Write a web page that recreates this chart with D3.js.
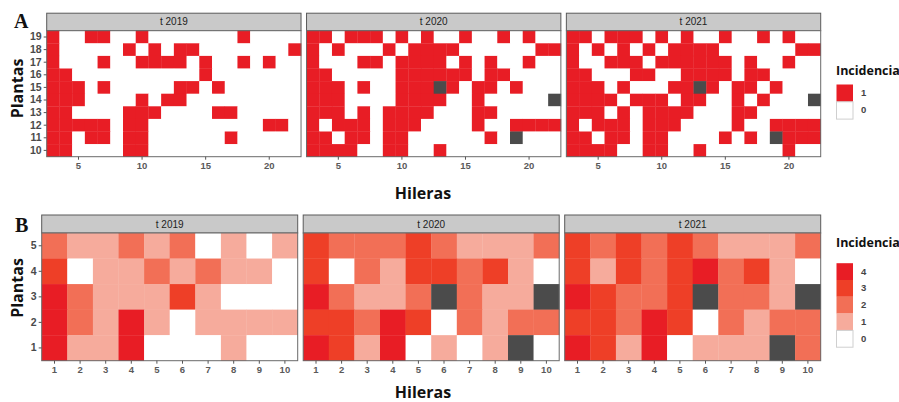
<!DOCTYPE html>
<html>
<head>
<meta charset="utf-8">
<script src="https://cdn.jsdelivr.net/npm/d3@7"></script>
<style>
  html, body { margin: 0; padding: 0; background: #fff; }
  svg { display: block; }
</style>
</head>
<body>
<svg id="chart" width="899" height="402"></svg>
<script>
// ---------- Panel A: presence (1) / absence (0) per plant and row ----------
const facetsA = ["t 2019", "t 2020", "t 2021"];
const hilerasA = [3, 4, 5, 6, 7, 8, 9, 10, 11, 12, 13, 14, 15, 16, 17, 18, 19, 20, 21, 22];
const plantasA = [10, 11, 12, 13, 14, 15, 16, 17, 18, 19];
const ticksAx = [5, 10, 15, 20];

// Each entry: [planta, hileras with incidencia = 1]
const incid2019 = [
  [19, [3, 6, 7, 10, 18]],
  [18, [3, 9, 11, 13, 14, 22]],
  [17, [3, 7, 10, 11, 12, 13, 15, 18, 20]],
  [16, [3, 4, 15]],
  [15, [3, 4, 5, 7, 13, 14, 16]],
  [14, [3, 4, 5, 10, 12, 13]],
  [13, [3, 4, 9, 10, 11, 16, 17]],
  [12, [3, 4, 5, 6, 7, 9, 10, 20, 21]],
  [11, [3, 4, 6, 7, 9, 10, 17]],
  [10, [3, 4, 9, 10]]
];
const incid2020 = [
  [19, [3, 4, 6, 7, 8, 10, 12, 15, 18, 20]],
  [18, [3, 5, 9, 11, 12, 13, 14, 21, 22]],
  [17, [3, 7, 8, 10, 11, 12, 13, 15, 17, 20]],
  [16, [3, 4, 10, 11, 12, 13, 14, 15, 17, 18]],
  [15, [3, 4, 5, 7, 10, 11, 12, 14, 16, 17, 19]],
  [14, [3, 4, 5, 10, 11, 12, 13, 16]],
  [13, [3, 4, 5, 7, 9, 10, 11, 12, 16, 17]],
  [12, [3, 5, 6, 7, 9, 10, 11, 16, 19, 20, 21, 22]],
  [11, [3, 4, 6, 7, 9, 10, 17]],
  [10, [3, 4, 5, 6, 9, 10, 13]]
];
const incid2021 = [
  [19, [3, 4, 6, 7, 8, 10, 12, 15, 18, 20]],
  [18, [3, 5, 7, 9, 11, 12, 13, 14, 21, 22]],
  [17, [3, 6, 7, 8, 10, 11, 12, 13, 14, 15, 17, 20]],
  [16, [3, 4, 8, 9, 12, 13, 14, 15, 17, 18]],
  [15, [3, 4, 5, 7, 11, 12, 14, 16, 17, 19]],
  [14, [3, 4, 5, 6, 8, 9, 10, 12, 13, 16, 18]],
  [13, [3, 4, 5, 7, 9, 10, 11, 12, 16, 17]],
  [12, [3, 5, 6, 7, 9, 10, 11, 16, 19, 20, 21, 22]],
  [11, [3, 4, 6, 7, 9, 10, 15, 17, 20, 21, 22]],
  [10, [3, 4, 5, 6, 9, 10, 13, 20]]
];
// Missing plants: [planta, hilera]
const na2019 = [];
const na2020 = [[15, 13], [14, 22], [11, 19]];
const na2021 = [[15, 13], [14, 22], [11, 19]];

const levelsA = [1, 0];

// ---------- Panel B: severity (0-4) per plant and row ----------
const facetsB = ["t 2019", "t 2020", "t 2021"];
const hilerasB = [1, 2, 3, 4, 5, 6, 7, 8, 9, 10];
const plantasB = [1, 2, 3, 4, 5];
// Rows listed from planta 5 (top) down to planta 1; null = missing
const sev2019 = [
  [2, 1, 1, 2, 1, 2, 0, 1, 0, 1],
  [3, 0, 1, 1, 2, 1, 2, 1, 1, 0],
  [4, 2, 1, 1, 1, 3, 1, 0, 0, 0],
  [4, 2, 1, 4, 1, 0, 1, 1, 1, 1],
  [4, 1, 1, 4, 0, 0, 0, 1, 0, 0]
];
const sev2020 = [
  [3, 2, 2, 2, 3, 2, 1, 1, 1, 2],
  [3, 0, 2, 1, 3, 3, 2, 3, 1, 0],
  [4, 2, 1, 1, 2, null, 2, 1, 1, null],
  [3, 3, 2, 4, 3, 0, 2, 1, 2, 2],
  [4, 3, 1, 4, 0, 1, 0, 1, null, 0]
];
const sev2021 = [
  [3, 2, 3, 2, 3, 2, 1, 1, 1, 2],
  [3, 1, 3, 2, 3, 4, 2, 3, 1, 0],
  [4, 3, 2, 2, 3, null, 2, 2, 1, null],
  [3, 3, 2, 4, 3, 0, 2, 1, 2, 2],
  [4, 3, 1, 4, 0, 1, 1, 1, null, 2]
];
const levelsB = [4, 3, 2, 1, 0];

// ---------- styling ----------
const RED = "#e81d25";
const NA_FILL = "#4b4b4b";
const colorA = d3.scaleOrdinal().domain([0, 1]).range(["#ffffff", RED]);
const colorB = d3.scaleOrdinal().domain([0, 1, 2, 3, 4])
  .range(["#ffffff", "#f6ab9c", "#f26f56", "#ee3f27", RED]);

const svg = d3.select("#chart");
const tickFont = "'Liberation Sans', Arial, sans-serif";
const titleFont = "'Open Sans', 'DejaVu Sans', sans-serif";

// Flatten panel A rows into cell records
function cellsA(rows, naList) {
  const out = [];
  const naKey = new Set(naList.map(d => d[0] + "_" + d[1]));
  rows.forEach(([p, reds]) => {
    hilerasA.forEach(h => {
      const k = p + "_" + h;
      out.push({ p, h, v: naKey.has(k) ? null : (reds.includes(h) ? 1 : 0) });
    });
  });
  return out;
}
function cellsB(rows) {
  const out = [];
  rows.forEach((vals, i) => {
    const p = plantasB[plantasB.length - 1 - i];
    vals.forEach((v, j) => out.push({ p, h: hilerasB[j], v }));
  });
  return out;
}

// Draws one faceted heatmap block
function drawBlock(cfg) {
  const { facets, data, hileras, plantas, left, right, top, height, stripH, gap,
          color, xTicks, letter, letterPos, ylabelPos, xlabelY } = cfg;
  const w = (right - left - gap * (facets.length - 1)) / facets.length;

  const x = d3.scaleBand().domain(hileras).range([0, w]).padding(0);
  const y = d3.scaleBand().domain(plantas.slice().reverse()).range([0, height]).padding(0);

  facets.forEach((name, i) => {
    const gx = left + i * (w + gap);
    const g = svg.append("g").attr("transform", `translate(${gx},${top})`);

    // strip
    g.append("rect")
      .attr("x", 0).attr("y", -stripH).attr("width", w).attr("height", stripH)
      .attr("fill", "#c9c9c9").attr("stroke", "#5a5a5a").attr("stroke-width", 1);
    g.append("text")
      .attr("x", w / 2).attr("y", -stripH / 2 + 3.5)
      .attr("text-anchor", "middle")
      .attr("font-family", tickFont).attr("font-size", 10).attr("fill", "#222")
      .text(name);

    // cells
    g.selectAll("rect.cell").data(data[i]).join("rect")
      .attr("class", "cell")
      .attr("x", d => x(d.h)).attr("y", d => y(d.p))
      .attr("width", x.bandwidth() + 0.3).attr("height", y.bandwidth() + 0.3)
      .attr("fill", d => d.v === null ? NA_FILL : color(d.v));

    // panel border
    g.append("rect")
      .attr("x", 0).attr("y", 0).attr("width", w).attr("height", height)
      .attr("fill", "none").attr("stroke", "#6a6a6a").attr("stroke-width", 1);

    // x axis
    const xa = g.append("g").attr("transform", `translate(0,${height})`)
      .call(d3.axisBottom(x).tickValues(xTicks).tickSize(3).tickPadding(3));
    xa.select(".domain").remove();
    xa.selectAll("line").attr("stroke", "#555");
    xa.selectAll("text").attr("font-family", tickFont).attr("font-size", 9.5)
      .attr("font-weight", "bold").attr("fill", "#5a5a5a");

    // y axis on first facet only
    if (i === 0) {
      const ya = g.append("g")
        .call(d3.axisLeft(y).tickSize(3).tickPadding(2));
      ya.select(".domain").remove();
      ya.selectAll("line").attr("stroke", "#555");
      ya.selectAll("text").attr("font-family", tickFont).attr("font-size", 10.5)
        .attr("font-weight", "bold").attr("fill", "#4a4a4a");
    }
  });

  // block letter
  svg.append("text")
    .attr("x", letterPos[0]).attr("y", letterPos[1])
    .attr("font-family", "'Liberation Serif', 'DejaVu Serif', serif")
    .attr("font-weight", "bold").attr("font-size", 20).attr("fill", "#111")
    .text(letter);

  // y title
  svg.append("text")
    .attr("transform", `translate(${ylabelPos[0]},${ylabelPos[1]}) rotate(-90)`)
    .attr("text-anchor", "middle")
    .attr("font-family", titleFont).attr("font-weight", "bold")
    .attr("font-size", 16).attr("fill", "#111")
    .text("Plantas");

  // x title
  svg.append("text")
    .attr("x", 423).attr("y", xlabelY)
    .attr("text-anchor", "middle")
    .attr("font-family", titleFont).attr("font-weight", "bold")
    .attr("font-size", 16).attr("fill", "#111")
    .text("Hileras");
}

// Legend with square keys
function drawLegend(levels, color, titleY, keyTop, keyH) {
  const lg = svg.append("g");
  lg.append("text")
    .attr("x", 836).attr("y", titleY)
    .attr("font-family", titleFont).attr("font-weight", "bold")
    .attr("font-size", 12.5).attr("fill", "#111")
    .text("Incidencia");
  const ky = d3.scaleBand().domain(levels).range([keyTop, keyTop + keyH * levels.length]);
  lg.selectAll("rect.key").data(levels).join("rect")
    .attr("class", "key")
    .attr("x", 836.5).attr("y", d => ky(d) + 0.5)
    .attr("width", 16.5).attr("height", ky.bandwidth())
    .attr("fill", d => color(d))
    .attr("stroke", d => d === 0 ? "#cfcfcf" : "none");
  lg.selectAll("text.lab").data(levels).join("text")
    .attr("class", "lab")
    .attr("x", 861).attr("y", d => ky(d) + ky.bandwidth() / 2 + 3.5)
    .attr("font-family", tickFont).attr("font-weight", "bold")
    .attr("font-size", 9.5).attr("fill", "#444")
    .text(d => d);
}

drawBlock({
  facets: facetsA,
  data: [cellsA(incid2019, na2019), cellsA(incid2020, na2020), cellsA(incid2021, na2021)],
  hileras: hilerasA, plantas: plantasA,
  left: 46.7, right: 820.7, top: 30.7, height: 126, stripH: 17.5, gap: 5.5,
  color: colorA, xTicks: ticksAx,
  letter: "A", letterPos: [14, 28], ylabelPos: [22.5, 88.5], xlabelY: 199
});
drawLegend(levelsA, colorA, 75, 84, 17.3);

drawBlock({
  facets: facetsB,
  data: [cellsB(sev2019), cellsB(sev2020), cellsB(sev2021)],
  hileras: hilerasB, plantas: plantasB,
  left: 41.7, right: 820.7, top: 233, height: 127.7, stripH: 18, gap: 5.5,
  color: colorB, xTicks: hilerasB,
  letter: "B", letterPos: [15, 232], ylabelPos: [22.5, 288], xlabelY: 398
});
drawLegend(levelsB, colorB, 247, 262.7, 16.8);
</script>
</body>
</html>
